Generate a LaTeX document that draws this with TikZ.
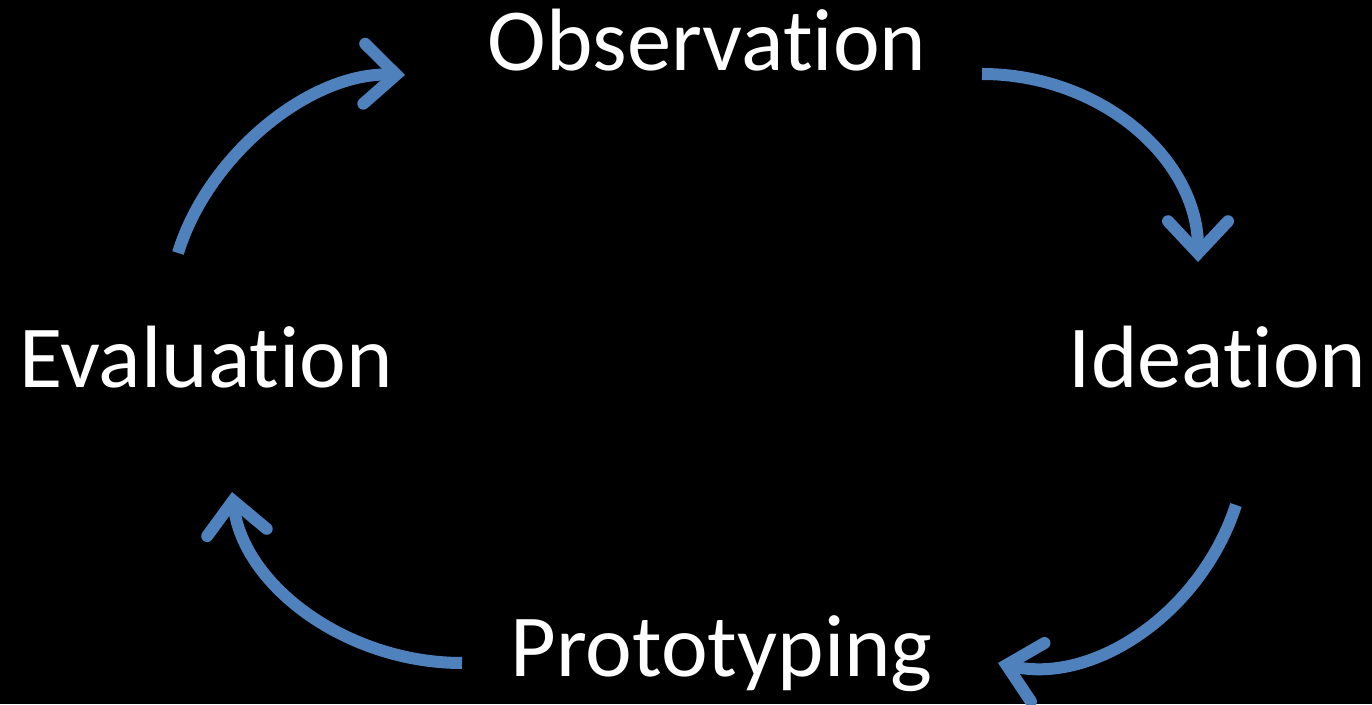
\documentclass[tikz,border=0pt]{standalone}
\usepackage{fontspec}
\setmainfont{Carlito}[Ligatures=NoCommon]
\usetikzlibrary{arrows.meta}
\definecolor{cycleblue}{RGB}{79,129,189}

\begin{document}
\begin{tikzpicture}[x=1pt, y=1pt,
    stage/.style={text=white, inner sep=0pt, anchor=base, font=\fontsize{88.5}{100}\selectfont},
    flow/.style={draw=cycleblue, line width=12pt,
      -{Straight Barb[length=32pt, width=60pt, line cap=round, line join=miter]}}]
    % Fundo preto e moldura da figura
    \fill[black] (0,0) rectangle (1372,704);
    \useasboundingbox (0,0) rectangle (1372,704);

    % Etapas do ciclo
    \node[stage] (obs)  at (707,633)   {Observation};
    \node[stage] (idea) at (1217.5,316) {Ideation};
    \node[stage] (prot) at (721.5,28)  {Prototyping};
    \node[stage] (eval) at (206,316)   {Evaluation};

    % Pontas das setas
    \coordinate (eval-out) at (178,451);
    \coordinate (obs-in)   at (405,629);
    \coordinate (obs-out)  at (982,630);
    \coordinate (idea-in)  at (1198,442);
    \coordinate (idea-out) at (1236,199);
    \coordinate (prot-in)  at (998,41);
    \coordinate (prot-out) at (462,41);
    \coordinate (eval-in)  at (232,212);

    % Setas curvas entre as etapas
    \draw[flow] (eval-out) .. controls (208,549) and (310,632) .. (obs-in);
    \draw[flow] (obs-out) .. controls (1101,630) and (1198,545) .. (idea-in);
    \draw[flow] (idea-out) .. controls (1200.6,90.2) and (1092.6,19) .. (prot-in);
    \draw[flow] (prot-out) .. controls (347,41) and (243.5,118) .. (eval-in);
\end{tikzpicture}
\end{document}
